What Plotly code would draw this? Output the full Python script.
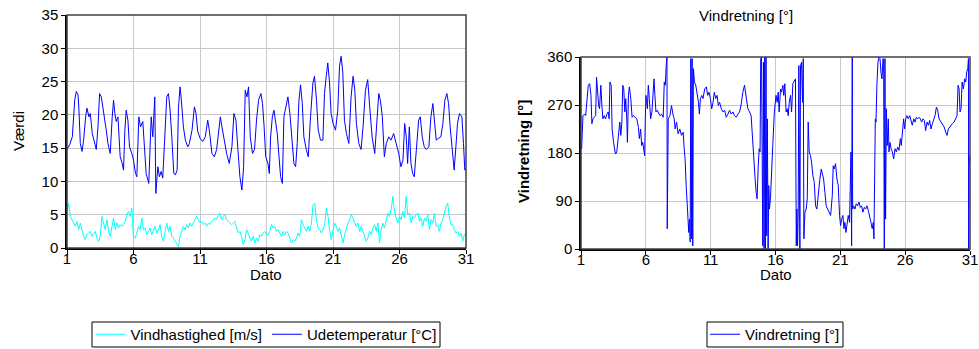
import plotly.graph_objects as go

# ---------------- data ----------------
# Left chart: wind speed [m/s], 3-hourly samples from day 1 to day 31
wind_speed = [
    5.5, 6.7, 4.75, 4.25, 3.75, 3.25, 4.0, 2.75, 3.75, 2.5, 1.75, 1.25, 2.0, 2.3, 2.5, 1.75, 2.2, 2.5, 1.5, 1.0,
    1.75, 4.75, 3.75, 2.75, 4.25, 2.5, 1.75, 3.25, 4.5, 2.75, 3.75, 3.0, 3.5, 3.25, 3.75, 4.0, 5.0, 5.5, 4.75, 6.0,
    1.5, 1.5, 2.25, 3.25, 2.75, 4.5, 2.75, 3.0, 2.0, 2.5, 3.0, 2.0, 2.75, 3.25, 2.25, 2.75, 3.5, 1.75, 1.0, 2.5,
    3.75, 2.5, 3.25, 1.75, 1.5, 1.0, 0.5, 0.25, 1.75, 2.5, 3.25, 2.75, 3.5, 3.0, 3.75, 3.25, 3.75, 4.0, 4.75, 4.25,
    3.75, 4.0, 3.5, 3.75, 3.25, 3.75, 3.5, 4.0, 4.25, 4.5, 4.25, 5.0, 5.25, 4.25, 4.75, 5.0, 4.25, 4.0, 3.75, 3.5,
    3.75, 4.0, 3.0, 2.25, 2.5, 1.75, 0.5, 1.25, 2.75, 2.25, 1.5, 1.0, 1.75, 0.75, 1.5, 1.0, 2.0, 1.75, 2.25, 2.5,
    2.0,
    2.0, 2.5, 3.5, 3.0, 3.25, 2.5, 2.75, 2.25, 1.75, 2.5, 2.0, 2.5, 2.25, 1.5, 0.75, 1.25, 1.0, 1.5, 2.25, 1.75,
    4.25, 3.5, 3.0, 2.5, 3.25, 2.5, 3.75, 6.5, 6.75, 4.25, 3.0, 2.75, 2.25, 2.75, 3.5, 6.0, 4.75, 2.5, 1.25, 2.75,
    3.75, 3.25, 2.5, 3.0, 2.0, 0.75, 2.0, 3.0, 3.75, 4.25, 5.0, 4.5, 3.75, 3.25, 3.75, 2.5, 3.25, 2.5, 1.75, 1.0,
    1.5, 2.5, 2.0, 3.0, 3.5, 2.5, 3.75, 0.75, 2.75, 3.75, 3.0, 4.25, 5.25, 4.75, 5.75, 7.75, 5.5, 4.5, 3.75, 4.75,
    4.25, 5.5, 4.5, 7.75, 5.0, 5.25, 3.75, 4.75, 4.5, 5.0, 5.25, 4.0, 4.5, 3.25, 4.5, 4.0, 5.0, 2.75, 4.25, 3.75,
    5.25, 3.25, 3.5, 2.5, 3.75, 4.25, 5.25, 6.25, 6.75, 4.5, 3.5, 3.5, 2.75, 2.25, 2.5, 1.75, 2.25, 1.0, 2.0, 2.0,
]
wind_day = [1 + k / 8 for k in range(len(wind_speed))]  # 3-hourly time stamps

# Left chart: outdoor temperature [°C]
temp_day = [
    1.00, 1.20, 1.40, 1.58, 1.70, 1.83, 1.90, 2.00, 2.13, 2.25, 2.40, 2.50, 2.65, 2.75, 2.90, 3.08, 3.20, 3.33,
    3.45, 3.58, 3.70, 3.83, 3.95, 4.08, 4.25, 4.40, 4.50, 4.60, 4.70, 4.83, 4.90, 5.00, 5.15, 5.25, 5.35, 5.45,
    5.58, 5.70, 5.88, 6.00, 6.15, 6.25, 6.40, 6.53, 6.70, 6.83, 6.95, 7.15, 7.33, 7.45, 7.60, 7.68, 7.83, 7.95,
    8.08, 8.20, 8.33, 8.50, 8.63, 8.75, 8.88, 9.03, 9.15, 9.28, 9.38, 9.50, 9.60, 9.75, 9.90, 10.08, 10.20, 10.40,
    10.58, 10.70, 10.83, 11.00, 11.20, 11.40, 11.58, 11.70, 11.90, 12.08, 12.25, 12.40, 12.53, 12.65, 12.83, 13.00,
    13.20, 13.40, 13.55, 13.70, 13.85, 14.00, 14.15, 14.28, 14.40, 14.53, 14.65, 14.78, 14.95, 15.10, 15.25, 15.40,
    15.58, 15.70, 15.82, 15.94, 16.11, 16.21, 16.31, 16.44, 16.56, 16.69, 16.81, 16.94, 17.06, 17.19, 17.31, 17.46,
    17.61, 17.76, 17.94, 18.06, 18.19, 18.31, 18.44, 18.56, 18.69, 18.81, 18.99, 19.14, 19.31, 19.49, 19.61, 19.76,
    19.89, 20.06, 20.24, 20.36, 20.49, 20.61, 20.74, 20.86, 21.01, 21.19, 21.36, 21.49, 21.61, 21.74, 21.86, 22.01,
    22.19, 22.36, 22.51, 22.64, 22.76, 22.94, 23.11, 23.26, 23.44, 23.61, 23.76, 23.94, 24.14, 24.31, 24.44, 24.56,
    24.71, 24.86, 25.01, 25.19, 25.36, 25.56, 25.74, 25.94, 26.11, 26.26, 26.39, 26.51, 26.61, 26.74, 26.86, 26.99,
    27.11, 27.26, 27.44, 27.56, 27.71, 27.86, 28.01, 28.21, 28.36, 28.51, 28.64, 28.76, 28.94, 29.11, 29.26, 29.41,
    29.56, 29.69, 29.81, 29.96, 30.11, 30.24, 30.36, 30.51, 30.69, 30.81, 30.91, 31.00,
]
temp = [
    14.8, 15.5, 16.7, 22.2, 23.5, 23.0, 20.7, 15.7, 14.5, 16.2, 19.7, 21.0, 19.7, 20.2, 17.2, 15.7, 14.8, 18.2,
    23.2, 22.7, 21.2, 19.7, 17.7, 15.7, 14.2, 19.7, 22.2, 20.2, 19.0, 19.7, 16.7, 13.7, 12.7, 11.7, 17.7, 20.7,
    19.2, 15.2, 14.2, 13.2, 11.2, 10.7, 19.7, 18.2, 19.0, 14.8, 11.2, 9.7, 19.7, 16.7, 22.7, 8.2, 12.2, 10.7,
    11.5, 10.5, 16.7, 22.7, 23.2, 20.7, 16.7, 11.2, 11.0, 11.7, 21.0, 24.2, 22.2, 18.2, 16.2, 15.2, 15.7, 17.7,
    21.2, 20.2, 17.5, 16.5, 16.0, 16.7, 19.2, 17.7, 14.2, 13.7, 14.8, 17.2, 19.7, 18.2, 16.2, 14.2,
    12.7, 15.2, 20.2, 19.2, 14.8, 10.7, 8.7, 12.2, 23.7, 22.7, 24.2, 16.7, 14.2, 14.8, 19.2, 22.2,
    23.2, 21.7, 18.2, 13.7, 12.7, 11.2, 16.7, 19.7, 20.7, 19.2, 17.2, 13.7, 10.7, 9.7, 19.7, 21.2,
    22.7, 20.2, 16.2, 12.7, 12.2, 15.7, 22.2, 24.5, 21.7, 16.7, 14.8, 13.7, 19.7, 24.8, 25.8, 22.2,
    17.7, 16.2, 16.2, 23.2, 25.8, 27.8, 24.8, 20.2, 18.7, 17.7, 20.7, 27.3, 28.8, 26.3, 19.2, 17.2,
    15.7, 22.7, 25.8, 23.7, 18.7, 15.7, 14.8, 18.2, 23.7, 25.3, 21.2, 16.7, 14.2, 18.7, 23.2, 22.2,
    19.7, 13.7, 15.7, 16.7, 16.2, 17.2, 15.7, 14.2, 12.2, 13.2, 18.7, 16.7, 12.7, 18.2, 12.7, 11.2,
    10.7, 14.8, 19.2, 19.7, 16.7, 15.2, 14.8, 15.2, 19.7, 21.7, 18.2, 16.2, 16.5, 16.7, 18.7, 22.2,
    23.2, 21.7, 18.2, 14.8, 11.7, 15.2, 18.7, 20.2, 19.7, 15.7, 11.7, 12.0,
]

# Right chart: wind direction [°]
dir_day = [
    1.00, 1.05, 1.15, 1.26, 1.36, 1.46, 1.56, 1.67, 1.77, 1.84, 1.92, 2.02, 2.13, 2.20, 2.28, 2.36, 2.43, 2.53,
    2.61, 2.69, 2.79, 2.89, 3.00, 3.10, 3.17, 3.23, 3.33, 3.40, 3.51, 3.58, 3.66, 3.76, 3.84, 3.92, 3.99, 4.07,
    4.15, 4.22, 4.30, 4.38, 4.45, 4.53, 4.58, 4.66, 4.73, 4.84, 4.94, 5.04, 5.17, 5.30, 5.43, 5.50, 5.60, 5.68,
    5.76, 5.83, 5.91, 5.96, 6.01, 6.12, 6.19, 6.27, 6.37, 6.47, 6.55, 6.63, 6.70, 6.78, 6.88, 6.99, 7.09, 7.22,
    7.34, 7.42, 7.50, 7.57, 7.63, 7.65, 7.68, 7.73, 7.86, 7.98, 8.11, 8.19, 8.26, 8.37, 8.49, 8.62, 8.75, 8.88,
    8.96, 9.03, 9.11, 9.19, 9.26, 9.31, 9.37, 9.42, 9.47, 9.52, 9.57, 9.62, 9.67, 9.75, 9.85, 9.95, 10.06, 10.13,
    10.21, 10.31, 10.41, 10.54, 10.67, 10.77, 10.87, 10.98, 11.08, 11.18, 11.28, 11.39, 11.49, 11.59, 11.69, 11.82,
    11.95, 12.08, 12.20, 12.33, 12.46, 12.59, 12.72, 12.84, 12.97, 13.10, 13.23, 13.36, 13.48, 13.61, 13.74, 13.87,
    14.00, 14.12, 14.20, 14.28, 14.35, 14.43, 14.51, 14.58, 14.66, 14.74, 14.81, 14.86, 14.92, 14.97, 15.02, 15.07,
    15.12, 15.17, 15.22, 15.27, 15.32, 15.37, 15.43, 15.48, 15.53, 15.61, 15.68, 15.79, 15.91, 16.04,
    16.13, 16.21, 16.28, 16.39, 16.46, 16.57, 16.64, 16.72, 16.82, 16.90, 16.98, 17.06, 17.16, 17.24, 17.34, 17.44,
    17.54, 17.60, 17.65, 17.70, 17.75, 17.80, 17.88, 17.93, 18.01, 18.08, 18.14, 18.19, 18.27, 18.37, 18.45, 18.52,
    18.60, 18.70, 18.78, 18.88, 18.99, 19.09, 19.19, 19.27, 19.35, 19.42, 19.53, 19.60, 19.71, 19.81, 19.91, 20.02,
    20.12, 20.25, 20.38, 20.45, 20.53, 20.63, 20.74, 20.84, 20.94, 21.02, 21.10, 21.20, 21.28, 21.35, 21.43, 21.53,
    21.61, 21.71, 21.77, 21.82, 21.87, 21.92, 21.95, 22.02, 22.13, 22.23, 22.33, 22.44, 22.54, 22.64, 22.74, 22.85,
    22.95, 23.05, 23.16, 23.26, 23.36, 23.46, 23.54, 23.59, 23.64, 23.70, 23.75, 23.82, 23.90, 23.98, 24.06, 24.13,
    24.21, 24.29, 24.34, 24.39, 24.44, 24.49, 24.55, 24.62, 24.70, 24.75, 24.83, 24.91, 25.01, 25.11, 25.22, 25.32,
    25.42, 25.52, 25.63, 25.70, 25.78, 25.88, 25.96, 26.04, 26.14, 26.24, 26.35, 26.45, 26.55, 26.66, 26.76, 26.86,
    26.97, 27.07, 27.17, 27.27, 27.38, 27.48, 27.58, 27.69, 27.79, 27.89, 27.99, 28.10, 28.20, 28.30, 28.41, 28.51,
    28.61, 28.74, 28.87, 29.00, 29.13, 29.23, 29.33, 29.44, 29.54, 29.64, 29.77, 29.90, 30.00, 30.08, 30.16, 30.23,
    30.31, 30.39, 30.49, 30.59, 30.67, 30.75, 30.83, 30.88, 30.90, 30.93, 30.98,
]
dir_deg = [
    194, 188, 250, 253, 250, 282, 307, 310, 288, 235, 244, 247, 250, 322, 294, 269, 263, 307,
    269, 244, 250, 244, 253, 257, 244, 313, 307, 225, 200, 188, 178, 182, 207, 219, 238, 213,
    238, 307, 300, 257, 282, 244, 200, 288, 304, 282, 247, 250, 247, 244, 228, 207, 225, 194,
    200, 182, 175, 244, 288, 263, 307, 282, 244, 257, 300, 319, 288, 257, 260, 253, 250, 253,
    247, 313, 307, 344, 360, 38, 156, 244, 250, 269, 250, 244, 225, 238, 216, 225, 213, 219,
    188, 169, 119, 81, 69, 31, 56, 13, 357, 19, 357, 6, 338, 313, 307, 294, 275, 253,
    282, 288, 282, 300, 304, 288, 294, 282, 263, 275, 294, 282, 288, 269, 275, 263,
    257, 260, 247, 253, 260, 253, 257, 250, 247, 253, 257, 272, 294, 307, 288, 263,
    257, 250, 219, 182, 163, 131, 106, 94, 150, 188, 182, 357, 360, 56, 6, 350,
    0, 360, 0, 360, 25, 244, 0, 119, 75, 94, 144, 194, 257, 288,
    275, 294, 257, 300, 294, 307, 288, 310, 257, 263, 250, 275, 288, 257, 310, 316,
    319, 6, 75, 6, 69, 344, 0, 344, 350, 275, 357, 19, 69, 75, 94, 238,
    182, 175, 163, 138, 125, 81, 75, 94, 119, 131, 150, 144, 131, 106, 81, 75,
    69, 63, 100, 156, 150, 160, 131, 119, 63, 44, 56, 63, 38, 50, 31, 56,
    63, 50, 175, 182, 6, 360, 75, 81, 75, 85, 81, 88, 78, 81, 69, 78,
    75, 81, 72, 63, 50, 38, 50, 19, 113, 244, 238, 307, 350, 360, 357, 332,
    319, 357, 354, 0, 357, 56, 263, 194, 244, 182, 200, 188, 182, 169, 188, 182,
    191, 185, 207, 194, 213, 244, 225, 244, 250, 244, 250, 238, 232, 244, 238, 247,
    244, 247, 244, 238, 244, 241, 222, 238, 232, 241, 225, 235, 241, 250, 266, 260,
    244, 238, 235, 229, 219, 213, 225, 229, 232, 235, 238, 244, 250, 307, 300, 257,
    263, 313, 300, 319, 313, 332, 338, 357, 0, 175, 163,
]

day_ticks = [1, 6, 11, 16, 21, 26, 31]
speed_temp_ticks = [0, 5, 10, 15, 20, 25, 30, 35]
dir_ticks = [0, 90, 180, 270, 360]

# ---------------- figure ----------------
W, H = 979, 349
FONT = "Liberation Sans, Arial, sans-serif"
FS = 15

def px_x(p):
    return p / W

def px_y(p):
    return 1 - p / H

fig = go.Figure()
fig.add_trace(go.Scatter(x=wind_day, y=wind_speed, mode="lines", name="Vindhastighed [m/s]",
                         line=dict(color="#00FFFF", width=1), xaxis="x", yaxis="y", legend="legend"))
fig.add_trace(go.Scatter(x=temp_day, y=temp, mode="lines", name="Udetemperatur [°C]",
                         line=dict(color="#0000FF", width=1), xaxis="x", yaxis="y", legend="legend"))
fig.add_trace(go.Scatter(x=dir_day, y=dir_deg, mode="lines", name="Vindretning [°]",
                         line=dict(color="#0000FF", width=1), xaxis="x2", yaxis="y2", legend="legend2"))

axis_common = dict(showline=True, linecolor="black", linewidth=1.5, ticks="outside", ticklen=4,
                   tickcolor="black", showgrid=True, gridcolor="#c8c8c8", gridwidth=1,
                   zeroline=False, automargin=False, tickfont=dict(family=FONT, size=FS, color="black"))
xaxis_extra = dict(ticklabelstandoff=-8)

legend_common = dict(orientation="h", yanchor="middle", bordercolor="rgba(0,0,0,0)", borderwidth=0,
                     bgcolor="rgba(0,0,0,0)", font=dict(family=FONT, size=FS, color="black"),
                     itemwidth=30, tracegroupgap=0)

fig.update_layout(
    width=W, height=H,
    margin=dict(l=0, r=0, t=0, b=0, pad=0, autoexpand=False),
    paper_bgcolor="white", plot_bgcolor="white",
    font=dict(family=FONT, size=FS, color="black"),
    xaxis=dict(domain=[px_x(67), px_x(466)], range=[1, 31], tickvals=day_ticks, anchor="y",
               **axis_common, **xaxis_extra),
    yaxis=dict(domain=[px_y(248), px_y(15)], range=[0, 35], tickvals=speed_temp_ticks, anchor="x", **axis_common),
    xaxis2=dict(domain=[px_x(581), px_x(970)], range=[1, 31], tickvals=day_ticks, anchor="y2",
                **axis_common, **xaxis_extra),
    yaxis2=dict(domain=[px_y(249), px_y(57)], range=[0, 360], tickvals=dir_ticks, anchor="x2", **axis_common),
    legend=dict(x=px_x(266), xanchor="center", y=px_y(334.5), **legend_common),
    legend2=dict(x=px_x(775), xanchor="center", y=px_y(334.5), **legend_common),
    showlegend=True,
)

# plot-area frames (top / right borders)
for xr, yr in (("x", "y"), ("x2", "y2")):
    fig.add_shape(type="rect", xref=f"{xr} domain", yref=f"{yr} domain", x0=0, x1=1, y0=0, y1=1,
                  line=dict(color="#404040", width=1.5), layer="above")

# legend frames
for x0, x1 in ((92, 440), (707, 843)):
    fig.add_shape(type="rect", xref="paper", yref="paper", x0=px_x(x0), x1=px_x(x1),
                  y0=px_y(347), y1=px_y(322), line=dict(color="black", width=1), layer="below")

annotations = [
    dict(text="Værdi", x=px_x(18), y=px_y(131), textangle=-90),
    dict(text="Dato", x=px_x(266), y=px_y(274)),
    dict(text="Dato", x=px_x(776), y=px_y(274)),
    dict(text="<b>Vindretning [°]</b>", x=px_x(523), y=px_y(152), textangle=-90),
    dict(text="Vindretning [°]", x=px_x(746), y=px_y(15)),
]
for a in annotations:
    fig.add_annotation(xref="paper", yref="paper", showarrow=False, xanchor="center", yanchor="middle",
                       font=dict(family=FONT, size=FS, color="black"), **a)

fig.write_html("out.html", config={"displayModeBar": False},
               post_script="document.body.style.margin='0px';document.body.style.overflow='hidden';")
